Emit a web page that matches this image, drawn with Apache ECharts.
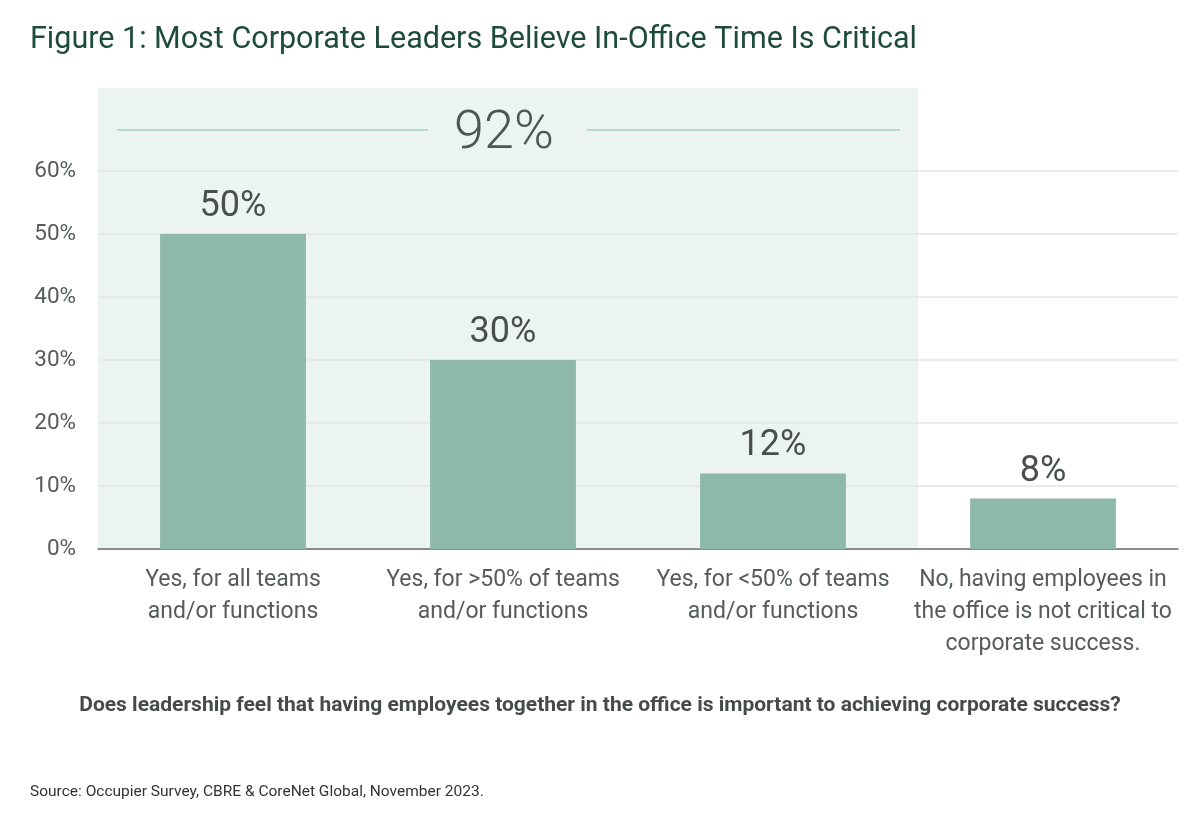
<!DOCTYPE html>
<html>
<head>
<meta charset="utf-8">
<script src="https://cdn.jsdelivr.net/npm/echarts@6/dist/echarts.min.js"></script>
<style>
html,body{margin:0;padding:0;background:#fff;}
#chart{width:1200px;height:816px;}
</style>
</head>
<body>
<div id="chart"></div>
<script>
var categories = [
  'Yes, for all teams\nand/or functions',
  'Yes, for >50% of teams\nand/or functions',
  'Yes, for <50% of teams\nand/or functions',
  'No, having employees in\nthe office is not critical to\ncorporate success.'
];
var values = [50, 30, 12, 8];
var yTicks = [0, 10, 20, 30, 40, 50, 60];
var criticalCount = 3; // first three answers are "Yes"

var FONT = 'Roboto, "Liberation Sans", sans-serif';
var chart = echarts.init(document.getElementById('chart'));

var option = {
  backgroundColor: '#ffffff',
  animation: false,
  title: [
    {
      text: 'Figure 1: Most Corporate Leaders Believe In-Office Time Is Critical',
      left: 25, top: 20,
      textStyle: {fontFamily: FONT, fontSize: 30.5, fontWeight: 'normal', color: '#1f4b3b'}
    },
    {
      text: 'Does leadership feel that having employees together in the office is important to achieving corporate success?',
      left: 'center', top: 690,
      textStyle: {fontFamily: FONT, fontSize: 21, fontWeight: 'bold', color: '#454b4a'}
    },
    {
      text: 'Source: Occupier Survey, CBRE & CoreNet Global, November 2023.',
      left: 25, top: 779,
      textStyle: {fontFamily: FONT, fontSize: 15.5, fontWeight: 'normal', color: '#333'}
    }
  ],
  grid: {left: 98, right: 22, top: 171, bottom: 267, containLabel: false},
  xAxis: {
    type: 'category',
    data: categories,
    axisTick: {show: false},
    axisLine: {lineStyle: {color: '#6b6f6e', width: 1.5}},
    axisLabel: {
      fontFamily: FONT, fontSize: 23, color: '#555c5a', lineHeight: 32,
      margin: 15, interval: 0
    }
  },
  yAxis: {
    type: 'value',
    min: yTicks[0], max: yTicks[yTicks.length - 1], interval: 10,
    axisLine: {show: false},
    axisTick: {show: false},
    splitLine: {lineStyle: {color: '#e2e6e4', width: 1.5}},
    axisLabel: {
      fontFamily: FONT, fontSize: 22.5, color: '#555c5a', margin: 22,
      formatter: '{value}%'
    }
  },
  series: [{
    type: 'bar',
    data: values,
    barWidth: '54%',
    itemStyle: {color: '#8db8aa'},
    z: 3,
    label: {
      show: true, position: 'top', distance: 9,
      fontFamily: FONT, fontSize: 36, color: '#4a4f4e',
      formatter: '{c}%'
    }
  }]
};
chart.setOption(option);

// Shaded region over the "Yes" answers, derived from axis scales
var x0 = chart.convertToPixel({xAxisIndex: 0}, categories[0]);
var x2 = chart.convertToPixel({xAxisIndex: 0}, categories[criticalCount - 1]);
var x1 = chart.convertToPixel({xAxisIndex: 0}, categories[1]);
var band = x1 - x0;
var left = x0 - band / 2;
var right = x2 + band / 2 + 10;
var yBase = chart.convertToPixel({yAxisIndex: 0}, 0);
var yTop = chart.convertToPixel({yAxisIndex: 0}, 73.2);
var yLine = chart.convertToPixel({yAxisIndex: 0}, 66.5);
var total = 0;
for (var i = 0; i < criticalCount; i++) total += values[i];
var cx = (left + right) / 2 - 4;

chart.setOption({
  graphic: [
    {
      type: 'rect', z: -10, silent: true,
      shape: {x: left, y: yTop, width: right - left, height: yBase - yTop},
      style: {fill: '#ebf4f1'}
    },
    {
      type: 'line', z: 1, silent: true,
      shape: {x1: left + 19, y1: yLine, x2: cx - 76, y2: yLine},
      style: {stroke: '#b7d8cd', lineWidth: 2}
    },
    {
      type: 'line', z: 1, silent: true,
      shape: {x1: cx + 83, y1: yLine, x2: right - 18, y2: yLine},
      style: {stroke: '#b7d8cd', lineWidth: 2}
    },
    {
      type: 'text', z: 2, silent: true,
      x: cx, y: yLine + 4,
      style: {
        text: total + '%', fontFamily: FONT, fontSize: 54, fontWeight: 300,
        fill: '#4f5554', align: 'center', verticalAlign: 'middle'
      }
    }
  ]
});
</script>
</body>
</html>
